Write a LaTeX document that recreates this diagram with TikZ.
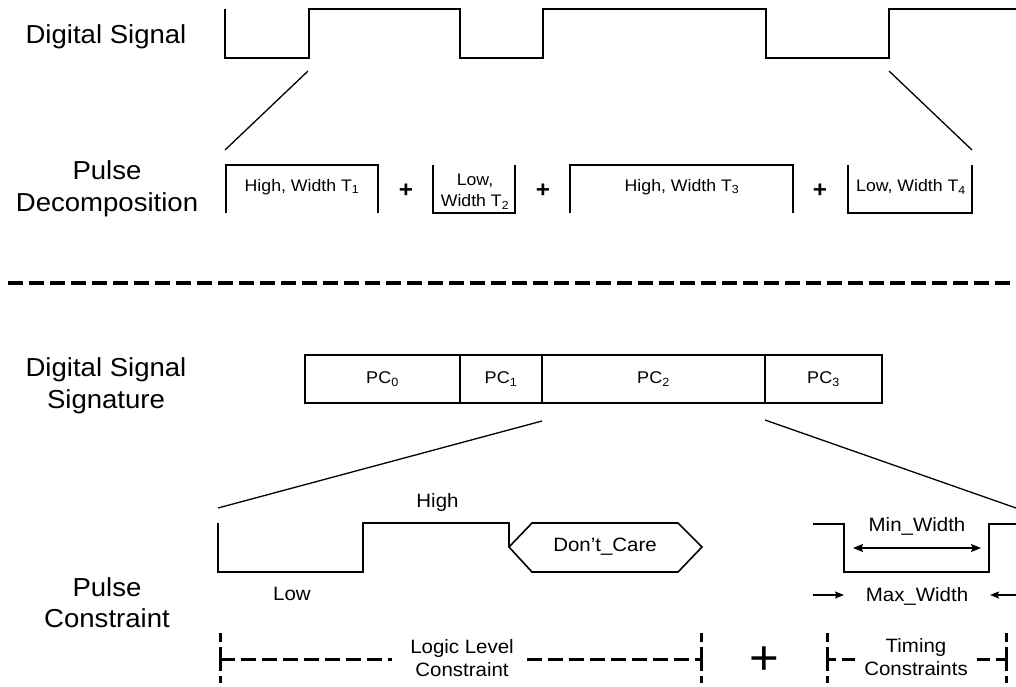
\documentclass[tikz,border=0pt]{standalone}
\usepackage{fontspec}
\setmainfont{Liberation Sans}[FakeStretch=1.06]
\usetikzlibrary{arrows.meta}

\tikzset{
  txt/.style={inner sep=0pt, align=center},
  biglabel/.style={txt, font=\fontsize{26}{31.5}\selectfont},
  boxlabel/.style={txt, font=\fontsize{16.7}{21}\selectfont},
  midlabel/.style={txt, font=\fontsize{19.3}{22.5}\selectfont},
  plussign/.style={txt, font=\fontsize{23}{23}\selectfont\bfseries},
  bigplus/.style={txt, font=\fontsize{48}{48}\selectfont},
  wave/.style={line width=2pt, line join=miter},
  hexwave/.style={line width=1.6pt, line join=miter},
  link/.style={line width=1.3pt},
  separator/.style={line width=3.3pt, dash pattern=on 15pt off 6pt},
  rangeline/.style={line width=3pt, dash pattern=on 15pt off 6pt},
  rangeend/.style={line width=3pt, dash pattern=on 12pt off 5pt},
  pcbox/.style={draw, line width=2pt, minimum height=48pt, inner sep=0pt,
                font=\fontsize{17}{20}\selectfont},
  dimarrow/.style={line width=1.3pt, {Stealth[length=10pt,width=8pt,inset=1.5pt]}-{Stealth[length=10pt,width=8pt,inset=1.5pt]}},
  gaparrow/.style={line width=1.3pt, -{Stealth[length=9pt,width=7pt,inset=1.5pt]}},
}

\begin{document}
\begin{tikzpicture}[x=1pt,y=-1pt]
\useasboundingbox (0,0) rectangle (1016,686);

% ---------- row labels ----------
\node[biglabel] (lblsig)  at (106,36.5) {Digital Signal};
\node[biglabel] (lbldec)  at (107,189)  {Pulse\\Decomposition};
\node[biglabel] (lblsign) at (106,386)  {Digital Signal\\Signature};
\node[biglabel] (lblcons) at (107,602.5){Pulse\\Constraint};

% ---------- digital signal ----------
\draw[wave] (225,9) -- (225,58) -- (309,58) -- (309,9) -- (460,9) -- (460,58)
  -- (543,58) -- (543,9) -- (766,9) -- (766,58) -- (889,58) -- (889,9) -- (1016,9);

\coordinate (sigL) at (308,71);
\coordinate (sigR) at (889,71);
\coordinate (decL) at (225,150);
\coordinate (decR) at (972,150);
\draw[link] (sigL) -- (decL);
\draw[link] (sigR) -- (decR);

% ---------- pulse decomposition ----------
\draw[wave] (226,213) -- (226,165) -- (378,165) -- (378,213);
\node[boxlabel] (p1) at (302,187) {High, Width T\textsubscript{1}};
\node[plussign] (plus1) at (406,191) {+};
\draw[wave] (433,165) -- (433,213) -- (515,213) -- (515,165);
\node[boxlabel] (p2) at (475,191.5) {Low,\\Width T\textsubscript{2}};
\node[plussign] (plus2) at (543,191) {+};
\draw[wave] (570,213) -- (570,165) -- (793,165) -- (793,213);
\node[boxlabel] (p3) at (682,187) {High, Width T\textsubscript{3}};
\node[plussign] (plus3) at (820,191) {+};
\draw[wave] (848,165) -- (848,213) -- (972,213) -- (972,165);
\node[boxlabel] (p4) at (911,187) {Low, Width T\textsubscript{4}};

% ---------- separator ----------
\draw[separator] (8,283) -- (1016,283);

% ---------- signature ----------
\node[pcbox, minimum width=155pt] (pc0) at (382.5,379) {PC\textsubscript{0}};
\node[pcbox, minimum width=82pt]  (pc1) at (501,379)   {PC\textsubscript{1}};
\node[pcbox, minimum width=223pt] (pc2) at (653.5,379) {PC\textsubscript{2}};
\node[pcbox, minimum width=117pt] (pc3) at (823.5,379) {PC\textsubscript{3}};

\coordinate (pcL) at (542,421);
\coordinate (pcR) at (765,420);
\coordinate (conL) at (218,508);
\coordinate (conR) at (1016,508);
\draw[link] (pcL) -- (conL);
\draw[link] (pcR) -- (conR);

% ---------- logic level constraint ----------
\draw[wave] (218,523) -- (218,572) -- (363,572) -- (363,523) -- (509,523) -- (509,547);
\draw[hexwave] (509,547) -- (532,523) -- (678,523) -- (702,547) -- (678,572) -- (532,572) -- cycle;
\node[midlabel] (high) at (437.5,502) {High};
\node[midlabel] (low)  at (292,594)   {Low};
\node[midlabel] (dc)   at (605,547)   {Don’t\_Care};

% ---------- timing constraint ----------
\draw[wave] (813,524) -- (844,524) -- (844,572) -- (989,572) -- (989,524) -- (1016,524);
\node[midlabel] (minw) at (917,526) {Min\_Width};
\coordinate (minA) at (853,548);
\coordinate (minB) at (981,548);
\draw[dimarrow] (minA) -- (minB);
\node[midlabel] (maxw) at (917,596) {Max\_Width};
\coordinate (maxA) at (813,595);
\coordinate (maxB) at (844,595);
\coordinate (maxC) at (1016,595);
\coordinate (maxD) at (990,595);
\draw[gaparrow] (maxA) -- (maxB);
\draw[gaparrow] (maxC) -- (maxD);

% ---------- constraint ranges ----------
\node[midlabel] (llc) at (462,658) {Logic Level\\Constraint};
\coordinate (llA) at (220,659);
\coordinate (llB) at (392,659);
\coordinate (llC) at (527,659);
\coordinate (llD) at (701,659);
\draw[rangeline] (llA) -- (llB);
\draw[rangeline] (llC) -- (llD);
\draw[rangeend] (llA) -- ++(0,-26);
\draw[rangeend] (llA) -- ++(0,24);
\draw[rangeend] (llD) -- ++(0,-26);
\draw[rangeend] (llD) -- ++(0,24);

\node[bigplus] (plusbig) at (764,661) {+};

\node[midlabel] (tc) at (916,657) {Timing\\Constraints};
\coordinate (tcA) at (827,659);
\coordinate (tcB) at (855,659);
\coordinate (tcC) at (977,659);
\coordinate (tcD) at (1006,659);
\draw[rangeline, dash pattern=on 9pt off 6pt on 13pt off 6pt] (tcA) -- (tcB);
\draw[rangeline, dash pattern=on 13pt off 6pt on 10pt off 6pt] (tcC) -- (tcD);
\draw[rangeend] (tcA) -- ++(0,-26);
\draw[rangeend] (tcA) -- ++(0,24);
\draw[rangeend] (tcD) -- ++(0,-26);
\draw[rangeend] (tcD) -- ++(0,24);
\end{tikzpicture}
\end{document}
